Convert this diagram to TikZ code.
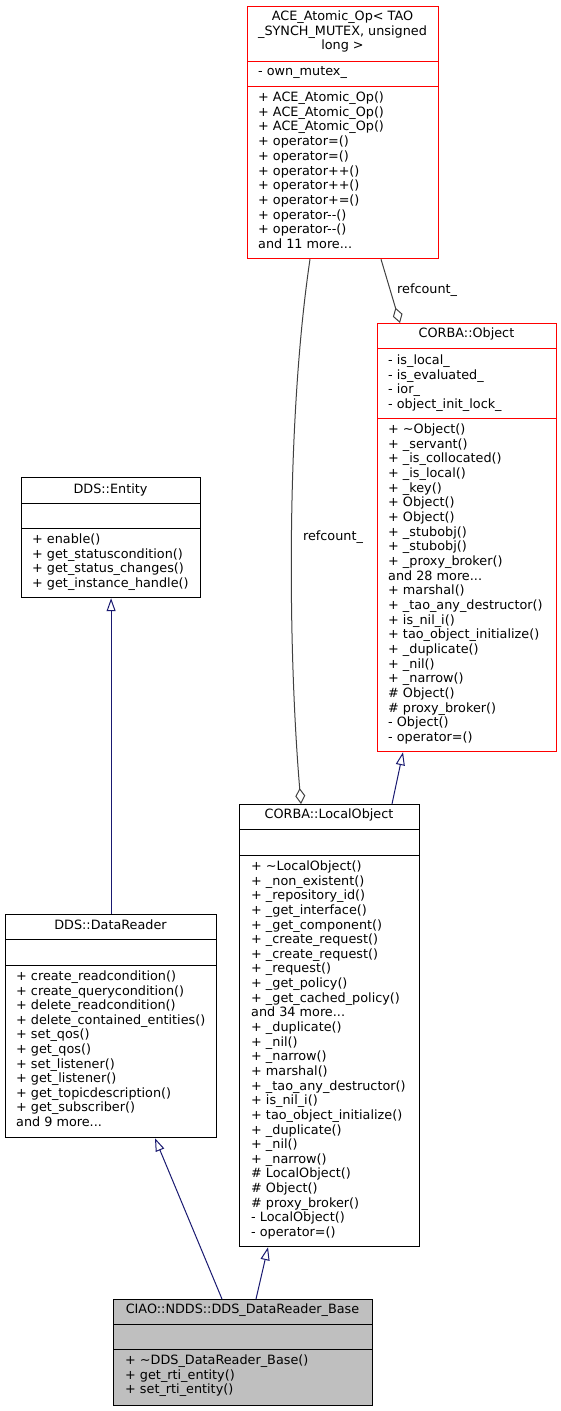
\documentclass[tikz,border=0pt]{standalone}
\usepackage{fontspec}
\setmainfont{DejaVu Sans}
\usetikzlibrary{arrows.meta,calc}
\definecolor{navy}{HTML}{191970}
\definecolor{edgegray}{HTML}{404040}
\definecolor{basegray}{HTML}{BFBFBF}
\newcommand{\mydots}{...}
\begin{document}
\begin{tikzpicture}[x=1pt,y=-1pt,
  box/.style={draw=black, line width=1.2pt, inner sep=0pt, anchor=north west, fill=white},
  redbox/.style={box, draw=red},
  txt/.style={font=\fontsize{12.8}{14.65}\selectfont, inner sep=0pt, text height=9.5pt, text depth=2.5pt},
  inh/.style={draw=navy, line width=1pt, -{Triangle[open,length=13pt,width=9pt]}},
  agg/.style={draw=edgegray, line width=1pt, -{Diamond[open,length=16pt,width=10pt]}},
  divb/.style={draw=black, line width=0.9pt},
  divr/.style={draw=red, line width=0.9pt}
]
\useasboundingbox (0,0) rectangle (561,1411);

% ---------- ACE_Atomic_Op ----------
\node[redbox, minimum width=191pt, minimum height=252pt] (ace) at (247,6) {};
\draw[divr] ($(ace.north west)+(0,55)$) -- ($(ace.north east)+(0,55)$);
\draw[divr] ($(ace.north west)+(0,80)$) -- ($(ace.north east)+(0,80)$);
\node[txt] (ace-t1) at (342.5,17) {ACE\_Atomic\_Op< TAO};
\node[txt] (ace-t2) at (342.5,31.5) {\_SYNCH\_MUTEX, unsigned};
\node[txt] (ace-t3) at (342.5,46) {long >};
\node[txt,anchor=west] (ace-a0) at (258,72) {- own\_mutex\_};
\foreach \t [count=\i from 0] in {
  {+ ACE\_Atomic\_Op()},{+ ACE\_Atomic\_Op()},{+ ACE\_Atomic\_Op()},
  {+ operator=()},{+ operator=()},{+ operator++()},{+ operator++()},
  {+ operator+=()},{+ operator-{}-()},{+ operator-{}-()},{and 11 more\mydots}}
  \node[txt,anchor=west] (ace-m\i) at (258,{98+\i*14.7}) {\t};

% ---------- CORBA::Object ----------
\node[redbox, minimum width=179pt, minimum height=428pt] (obj) at (377,323) {};
\draw[divr] ($(obj.north west)+(0,25)$) -- ($(obj.north east)+(0,25)$);
\draw[divr] ($(obj.north west)+(0,95)$) -- ($(obj.north east)+(0,95)$);
\node[txt] (obj-t) at (466.5,334) {CORBA::Object};
\foreach \t [count=\i from 0] in {
  {- is\_local\_},{- is\_evaluated\_},{- ior\_},{- object\_init\_lock\_}}
  \node[txt,anchor=west] (obj-a\i) at (388,{361+\i*14.67}) {\t};
\foreach \t [count=\i from 0] in {
  {+ \textasciitilde Object()},{+ \_servant()},{+ \_is\_collocated()},{+ \_is\_local()},
  {+ \_key()},{+ Object()},{+ Object()},{+ \_stubobj()},{+ \_stubobj()},
  {+ \_proxy\_broker()},{and 28 more\mydots},{+ marshal()},{+ \_tao\_any\_destructor()},
  {+ is\_nil\_i()},{+ tao\_object\_initialize()},{+ \_duplicate()},{+ \_nil()},
  {+ \_narrow()},{\# Object()},{\# proxy\_broker()},{- Object()},{- operator=()}}
  \node[txt,anchor=west] (obj-m\i) at (388,{430+\i*14.67}) {\t};

% ---------- DDS::Entity ----------
\node[box, minimum width=179pt, minimum height=120pt] (ent) at (21,477) {};
\draw[divb] ($(ent.north west)+(0,26)$) -- ($(ent.north east)+(0,26)$);
\draw[divb] ($(ent.north west)+(0,51)$) -- ($(ent.north east)+(0,51)$);
\node[txt] (ent-t) at (110.5,490) {DDS::Entity};
\foreach \t [count=\i from 0] in {
  {+ enable()},{+ get\_statuscondition()},{+ get\_status\_changes()},{+ get\_instance\_handle()}}
  \node[txt,anchor=west] (ent-m\i) at (32,{540+\i*14.65}) {\t};

% ---------- CORBA::LocalObject ----------
\node[box, minimum width=180pt, minimum height=442pt] (lo) at (239,804) {};
\draw[divb] ($(lo.north west)+(0,25)$) -- ($(lo.north east)+(0,25)$);
\draw[divb] ($(lo.north west)+(0,51)$) -- ($(lo.north east)+(0,51)$);
\node[txt] (lo-t) at (329,815) {CORBA::LocalObject};
\foreach \t [count=\i from 0] in {
  {+ \textasciitilde LocalObject()},{+ \_non\_existent()},{+ \_repository\_id()},
  {+ \_get\_interface()},{+ \_get\_component()},{+ \_create\_request()},
  {+ \_create\_request()},{+ \_request()},{+ \_get\_policy()},{+ \_get\_cached\_policy()},
  {and 34 more\mydots},{+ \_duplicate()},{+ \_nil()},{+ \_narrow()},{+ marshal()},
  {+ \_tao\_any\_destructor()},{+ is\_nil\_i()},{+ tao\_object\_initialize()},
  {+ \_duplicate()},{+ \_nil()},{+ \_narrow()},{\# LocalObject()},{\# Object()},
  {\# proxy\_broker()},{- LocalObject()},{- operator=()}}
  \node[txt,anchor=west] (lo-m\i) at (251,{867+\i*14.64}) {\t};

% ---------- DDS::DataReader ----------
\node[box, minimum width=211pt, minimum height=223pt] (dr) at (5,914) {};
\draw[divb] ($(dr.north west)+(0,25)$) -- ($(dr.north east)+(0,25)$);
\draw[divb] ($(dr.north west)+(0,51)$) -- ($(dr.north east)+(0,51)$);
\node[txt] (dr-t) at (110.5,926) {DDS::DataReader};
\foreach \t [count=\i from 0] in {
  {+ create\_readcondition()},{+ create\_querycondition()},{+ delete\_readcondition()},
  {+ delete\_contained\_entities()},{+ set\_qos()},{+ get\_qos()},{+ set\_listener()},
  {+ get\_listener()},{+ get\_topicdescription()},{+ get\_subscriber()},{and 9 more\mydots}}
  \node[txt,anchor=west] (dr-m\i) at (16,{977+\i*14.6}) {\t};

% ---------- CIAO::NDDS::DDS_DataReader_Base ----------
\node[box, fill=basegray, minimum width=259pt, minimum height=106pt] (base) at (113,1299) {};
\draw[divb] ($(base.north west)+(0,25)$) -- ($(base.north east)+(0,25)$);
\draw[divb] ($(base.north west)+(0,50)$) -- ($(base.north east)+(0,50)$);
\node[txt] (base-t) at (242.5,1310) {CIAO::NDDS::DDS\_DataReader\_Base};
\foreach \t [count=\i from 0] in {
  {+ \textasciitilde DDS\_DataReader\_Base()},{+ get\_rti\_entity()},{+ set\_rti\_entity()}}
  \node[txt,anchor=west] (base-m\i) at (125,{1361+\i*14.6}) {\t};

% ---------- connectors ----------
\draw[inh] (dr.north) -- (ent.south);
\draw[inh] ([xshift=109pt]base.north west) -- ([xshift=150pt]dr.south west);
\draw[inh] ([xshift=143pt]base.north west) -- ([xshift=29pt]lo.south west);
\draw[inh] ([xshift=153pt]lo.north west) -- ([xshift=26pt]obj.south west);
\draw[agg] ([xshift=63pt]ace.south west) .. controls +(-24,162) and +(-13,-154) .. ([xshift=62pt]lo.north west);
\node[txt] (lab1) at (333,537) {refcount\_};
\draw[agg] ([xshift=134pt]ace.south west) -- ([xshift=23pt]obj.north west);
\node[txt,anchor=west] (lab2) at (397,290) {refcount\_};
\end{tikzpicture}
\end{document}
